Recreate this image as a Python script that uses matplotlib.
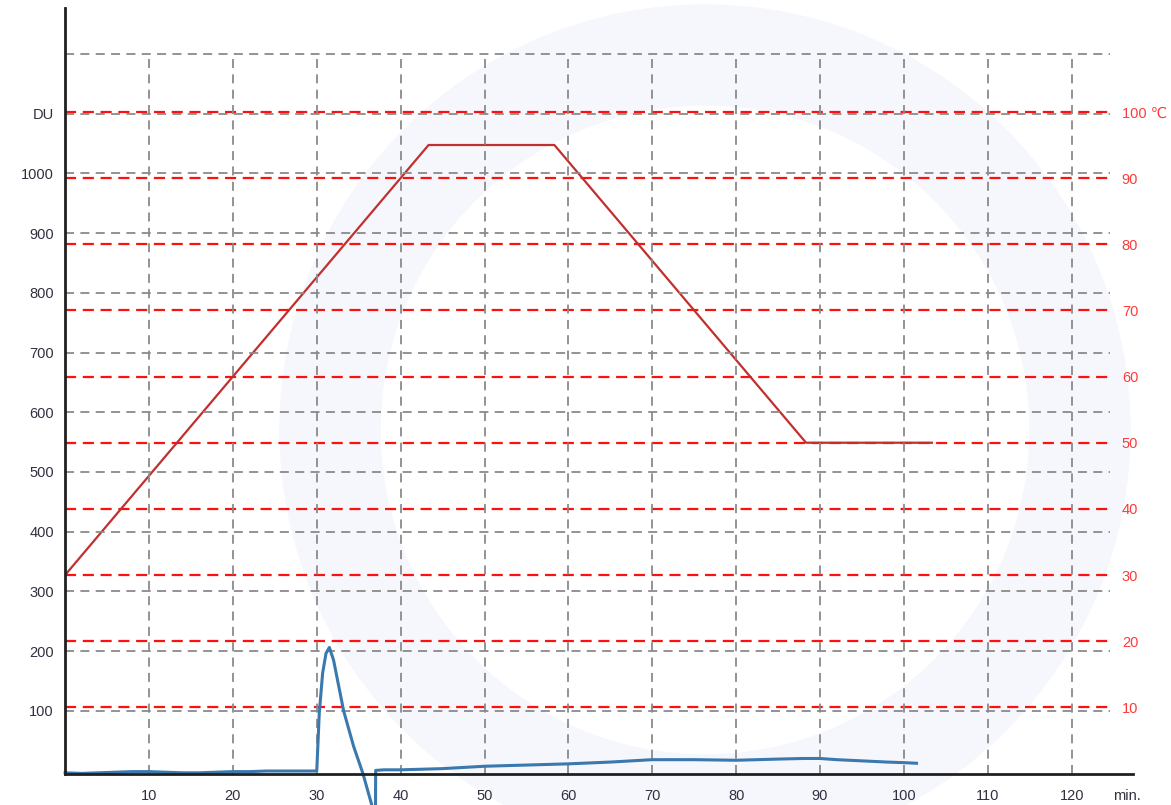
import matplotlib.pyplot as plt
from matplotlib.patches import Annulus

# consistency curve (DU) over time
t_du = [0, 2, 4, 6, 8, 10, 12, 14, 16, 18, 20, 22, 24, 26, 28, 30.0,
        30.3, 30.7, 31.1, 31.5, 32.0, 33.2, 34.4, 35.5, 37.0, 37.02,
        38, 40, 45, 50, 55, 60, 65, 70, 75, 80, 85, 88, 90, 92, 95, 98, 100, 101.5]
du = [-4, -5, -4, -3, -2, -2, -3, -4, -4, -3, -2, -2, -1, -1, -1, -1,
      96, 163, 196, 206, 185, 100, 40, -5, -80, 0,
      1, 1, 3, 7, 9, 11, 14, 18, 18, 17, 19, 20, 20, 18, 16, 14, 13, 12]

# temperature programme (°C)
t_temp = [0, 43.33, 58.33, 88.33, 103.33]
temp = [30, 95, 95, 50, 50]

x_ticks = [10, 20, 30, 40, 50, 60, 70, 80, 90, 100, 110, 120]
du_ticks = [100, 200, 300, 400, 500, 600, 700, 800, 900, 1000, 1100, 1200]
du_labels = ['100', '200', '300', '400', '500', '600', '700', '800', '900', '1000', 'DU', '']
temp_ticks = [10, 20, 30, 40, 50, 60, 70, 80, 90, 100]
temp_labels = ['10', '20', '30', '40', '50', '60', '70', '80', '90', '100 ℃']

plt.rcParams['font.family'] = ['Liberation Sans', 'DejaVu Sans']

fig = plt.figure(figsize=(11.71, 8.05), dpi=100)

# faint logo ring in the background
ring = Annulus((7.05, 3.75), 4.25, 1.0, transform=fig.dpi_scale_trans,
               color='#f6f7fd', zorder=-5)
fig.patches.append(ring)
ring.set_figure(fig)

ax = fig.add_axes([0.0556, 0.0391, 0.9119, 0.9509])
ax2 = ax.twinx()
ax.set_zorder(ax2.get_zorder() + 1)
ax.patch.set_visible(False)
ax2.patch.set_visible(False)

x_max = 127.3
grid_end = 124.6
ax.set_xlim(0, x_max)
ax.set_ylim(-5.2, 1277)
ax2.set_ylim(0, 115.7)

# gray dashed grid
ax.vlines(x_ticks, -5.2, 1200, colors='#8a8a8a', linestyles=(0, (5, 3.5)), linewidth=1.3)
ax.hlines(du_ticks, 0, grid_end, colors='#8a8a8a', linestyles=(0, (5, 3.5)), linewidth=1.3)

# red temperature reference lines
ax2.hlines(temp_ticks, 0, grid_end, colors='#ff1010', linestyles=(0, (5, 3)), linewidth=1.6)

ax2.plot(t_temp, temp, color='#c0302e', linewidth=1.6)
ax.plot(t_du, du, color='#3a78ae', linewidth=2.2, clip_on=False)

for a in (ax, ax2):
    for s in a.spines.values():
        s.set_visible(False)
for side in ('left', 'bottom'):
    ax.spines[side].set_visible(True)
    ax.spines[side].set_linewidth(2)
    ax.spines[side].set_color('#202020')

ax.set_xticks(x_ticks)
ax.set_xticklabels([str(v) for v in x_ticks])
ax.set_yticks(du_ticks)
ax.set_yticklabels(du_labels)
ax.tick_params(axis='x', length=0, pad=11, labelsize=10.5, labelcolor='#303040')
ax.tick_params(axis='y', length=0, pad=8, labelsize=10.5, labelcolor='#303040')

ax2.set_yticks(temp_ticks)
ax2.set_yticklabels(temp_labels)
ax2.tick_params(axis='y', length=0, pad=-8, labelsize=10.5, labelcolor='#ff3a3a')

ax.annotate('min.', xy=(126.6, 0), xycoords=('data', 'axes fraction'),
            xytext=(0, -11), textcoords='offset points', ha='center', va='top',
            fontsize=10.5, color='#303040', annotation_clip=False)

fig.savefig('out.png', dpi=100)
